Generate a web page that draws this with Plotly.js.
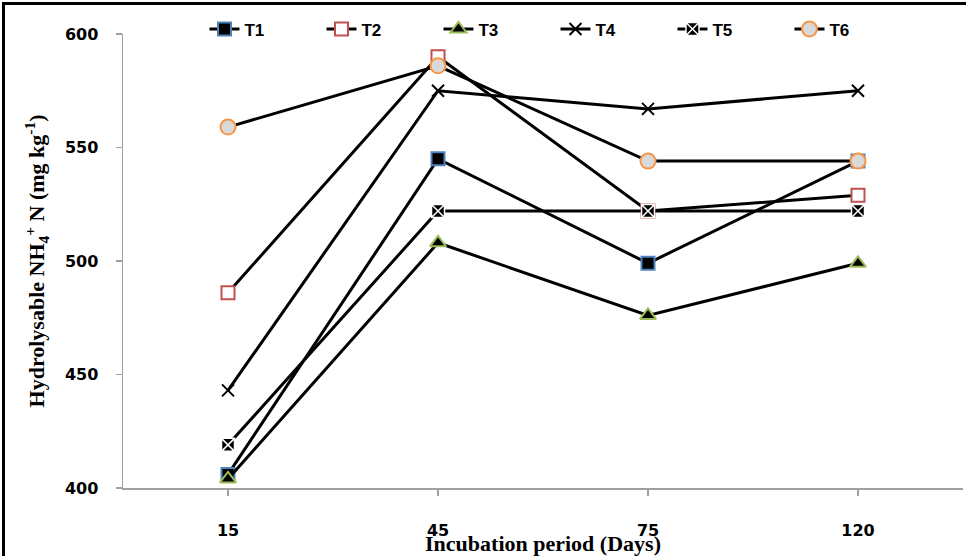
<!DOCTYPE html>
<html>
<head>
<meta charset="utf-8">
<script src="https://cdn.plot.ly/plotly-3.0.1.min.js"></script>
<style>
  html, body { margin: 0; padding: 0; background: #fff; }
  #wrap { position: relative; width: 966px; height: 556px; overflow: hidden; }
  #chart { position: absolute; left: 0; top: 0; width: 966px; height: 556px; }
  #frame { position: absolute; left: 2px; top: 2px; width: 1000px; height: 1000px;
           border-top: 3px solid #000; border-left: 3px solid #000; pointer-events: none; }
</style>
</head>
<body>
<div id="wrap">
  <div id="chart"></div>
  <div id="frame"></div>
</div>
<script>
const categories = ["15", "45", "75", "120"];
const seriesNames = ["T1", "T2", "T3", "T4", "T5", "T6"];
const T1 = [406, 545, 499, 544];
const T2 = [486, 590, 522, 529];
const T3 = [404, 508, 476, 499];
const T4 = [443, 575, 567, 575];
const T5 = [419, 522, 522, 522];
const T6 = [559, 586, 544, 544];
const yTicks = [400, 450, 500, 550, 600];

const values = [T1, T2, T3, T4, T5, T6];
const markerStyles = [
  {symbol: "square", size: 13, color: "#000000", line: {color: "#4F81BD", width: 2}},
  {symbol: "square", size: 13, color: "#FFFFFF", line: {color: "#C0504D", width: 2}},
  {symbol: "triangle-up", size: 14, color: "#000000", line: {color: "#9BBB59", width: 2}},
  {symbol: "x-thin-open", size: 12, color: "#000000", line: {color: "#000000", width: 2}},
  {symbol: "square-x", size: 13, color: "#000000", line: {color: "#FFFFFF", width: 1.5}},
  {symbol: "circle", size: 15, color: "#D9D9D9", line: {color: "#F79646", width: 2}}
];

const idx = categories.map((c, i) => i);
const traces = values.map((v, k) => ({
  type: "scatter",
  mode: "lines+markers",
  name: seriesNames[k],
  x: idx,
  y: v,
  line: {color: "#000000", width: 3},
  marker: markerStyles[k],
  cliponaxis: false
}));

const layout = {
  width: 966,
  height: 556,
  paper_bgcolor: "#ffffff",
  plot_bgcolor: "#ffffff",
  margin: {l: 123, r: 3, t: 34, b: 68, autoexpand: false},
  showlegend: true,
  legend: {
    orientation: "h",
    x: 0.097, xanchor: "left",
    y: 1.01, yanchor: "middle",
    entrywidth: 72,
    entrywidthmode: "pixels",
    font: {family: "Liberation Sans Narrow, Arial Narrow, Liberation Sans, Arial", size: 17, color: "#000", weight: "bold"},
    bgcolor: "rgba(0,0,0,0)",
    itemclick: false
  },
  xaxis: {
    range: [-0.5, 3.5],
    tickmode: "array",
    tickvals: idx,
    ticktext: categories,
    tickson: "boundaries",
    ticks: "outside",
    ticklen: 6,
    tickcolor: "#A0A0A0",
    tickwidth: 1.5,
    showline: true,
    linecolor: "#A0A0A0",
    linewidth: 1.5,
    showgrid: false,
    zeroline: false,
    ticklabelstandoff: 21,
    tickfont: {family: "DejaVu Sans", size: 16, color: "#000", weight: "bold"},
    title: {
      text: "<b>Incubation period (Days)</b>",
      font: {family: "Liberation Serif", size: 22, color: "#000"},
      standoff: 0
    }
  },
  yaxis: {
    range: [400, 600],
    tickmode: "array",
    tickvals: yTicks,
    ticktext: yTicks.map(String),
    ticks: "outside",
    ticklen: 6,
    tickcolor: "#A0A0A0",
    tickwidth: 1.5,
    showline: true,
    linecolor: "#A0A0A0",
    linewidth: 1.5,
    showgrid: false,
    zeroline: false,
    ticklabelstandoff: 14,
    tickfont: {family: "DejaVu Sans", size: 16, color: "#000", weight: "bold"},
    title: {
      text: "<b>Hydrolysable NH<sub>4</sub><sup>+</sup> N (mg kg<sup>-1</sup>)</b>",
      font: {family: "Liberation Serif", size: 22, color: "#000"},
      standoff: 14
    }
  }
};

Plotly.newPlot("chart", traces, layout, {displayModeBar: false, staticPlot: true});
</script>
</body>
</html>
